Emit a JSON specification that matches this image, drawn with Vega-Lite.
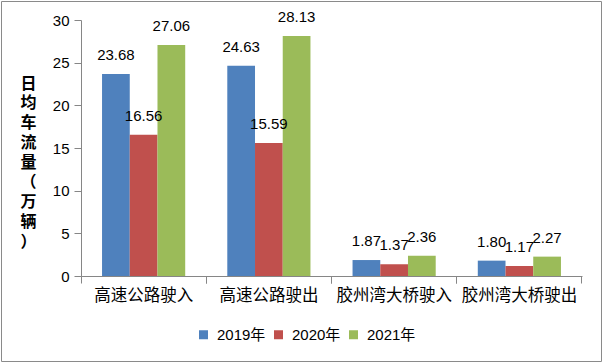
{
  "$schema": "https://vega.github.io/schema/vega-lite/v6.json",
  "width": 600,
  "height": 360,
  "padding": 1,
  "autosize": {"type": "none"},
  "background": "white",
  "config": {
    "view": {"stroke": "#8a8a8a", "strokeWidth": 1},
    "font": "Liberation Sans, Noto Sans CJK SC"
  },
  "data": {
    "values": [
      {"cat": "高速公路驶入", "year": "2019年", "value": 23.68},
      {"cat": "高速公路驶入", "year": "2020年", "value": 16.56},
      {"cat": "高速公路驶入", "year": "2021年", "value": 27.06},
      {"cat": "高速公路驶出", "year": "2019年", "value": 24.63},
      {"cat": "高速公路驶出", "year": "2020年", "value": 15.59},
      {"cat": "高速公路驶出", "year": "2021年", "value": 28.13},
      {"cat": "胶州湾大桥驶入", "year": "2019年", "value": 1.87},
      {"cat": "胶州湾大桥驶入", "year": "2020年", "value": 1.37},
      {"cat": "胶州湾大桥驶入", "year": "2021年", "value": 2.36},
      {"cat": "胶州湾大桥驶出", "year": "2019年", "value": 1.80},
      {"cat": "胶州湾大桥驶出", "year": "2020年", "value": 1.17},
      {"cat": "胶州湾大桥驶出", "year": "2021年", "value": 2.27}
    ]
  },
  "encoding": {
    "xOffset": {"field": "year", "type": "nominal", "scale": {"paddingInner": 0, "paddingOuter": 0}},
    "y": {
      "field": "value",
      "type": "quantitative",
      "scale": {"domain": [0, 30], "range": [275, 19], "nice": false, "zero": true},
      "axis": {
        "title": ["日", "均", "车", "流", "量", "（", "万", "辆", "）"],
        "titleAngle": 0,
        "titleX": -53,
        "titleY": 74,
        "titleBaseline": "top",
        "titleAlign": "center",
        "titleFontSize": 16,
        "titleFontWeight": "bold",
        "titleLineHeight": 19.75,
        "titleFont": "Noto Sans CJK SC",
        "titleColor": "black",
        "offset": -80,
        "tickSize": 7,
        "labelPadding": 5,
        "labelFontSize": 15,
        "labelColor": "black",
        "values": [0, 5, 10, 15, 20, 25, 30],
        "grid": false,
        "domainColor": "#868686",
        "tickColor": "#868686"
      }
    }
  },
  "layer": [
    {
      "mark": {"type": "bar"},
      "encoding": {
        "x": {
          "field": "cat",
          "type": "nominal",
          "sort": ["高速公路驶入", "高速公路驶出", "胶州湾大桥驶入", "胶州湾大桥驶出"],
          "scale": {"range": [80, 581], "paddingInner": 0.336, "paddingOuter": 0.168},
          "axis": {
            "orient": "bottom",
            "title": null,
            "labelAngle": 0,
            "bandPosition": -0.253,
            "offset": -85,
            "tickSize": 7,
            "domainColor": "#868686",
            "tickColor": "#868686",
            "labelColor": "black",
            "labelFontSize": 16.5,
            "labelPadding": 4,
            "labelFont": "Noto Sans CJK SC"
          }
        },
        "color": {
          "field": "year",
          "type": "nominal",
          "scale": {"domain": ["2019年", "2020年", "2021年"], "range": ["#4F81BD", "#C0504D", "#9BBB59"]},
          "legend": {
            "orient": "none",
            "legendX": 195,
            "legendY": 326,
            "direction": "horizontal",
            "title": null,
            "symbolType": "square",
            "symbolSize": 81,
            "symbolStrokeWidth": 0,
            "labelFontSize": 15,
            "labelColor": "black",
            "labelOffset": 6,
            "columnPadding": 5,
            "padding": 0
          }
        }
      }
    },
    {
      "mark": {"type": "text", "dy": -14, "baseline": "alphabetic", "fontSize": 15, "color": "black"},
      "encoding": {
        "x": {
          "field": "cat",
          "type": "nominal",
          "sort": ["高速公路驶入", "高速公路驶出", "胶州湾大桥驶入", "胶州湾大桥驶出"],
          "axis": {
            "orient": "bottom",
            "title": null,
            "labels": false,
            "domain": false,
            "bandPosition": 1.253,
            "offset": -85,
            "tickSize": 7,
            "tickColor": "#868686"
          }
        },
        "text": {"field": "value", "type": "quantitative", "format": ".2f"}
      }
    }
  ],
  "resolve": {"axis": {"x": "independent"}}
}
